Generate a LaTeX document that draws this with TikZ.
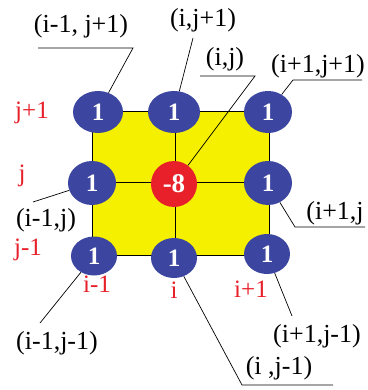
\documentclass[tikz,border=0pt]{standalone}
\usepackage{fontspec}
\setmainfont{Liberation Serif}
\usetikzlibrary{shapes.geometric}
\definecolor{nodeblue}{HTML}{3C46A0}
\definecolor{nodered}{HTML}{E8202A}
\definecolor{labred}{HTML}{E8202A}
\definecolor{fieldyellow}{HTML}{F5F000}
\tikzset{
  pt/.style={ellipse, fill=nodeblue, text=white, inner sep=0pt,
    minimum width=48pt, minimum height=42pt,
    font=\fontsize{25}{25}\selectfont\bfseries},
  ctr/.style={circle, fill=nodered, text=white, inner sep=0pt,
    minimum size=46pt, font=\fontsize{27}{27}\selectfont\bfseries},
  idx/.style={text=labred, inner sep=0pt, font=\fontsize{25}{25}\selectfont},
  lab/.style={inner sep=0pt, font=\fontsize{26}{26}\selectfont},
  lead/.style={draw=black, line width=0.7pt},
  grid/.style={draw=black, line width=0.7pt}
}
\begin{document}
\begin{tikzpicture}[x=1pt, y=-1pt]
\useasboundingbox (0,0) rectangle (367,390);
\fill[white] (0,0) rectangle (367,390);
% yellow field and grid
\coordinate (r1) at (92,111);
\coordinate (r2) at (269,255);
\filldraw[fill=fieldyellow, grid] (r1) rectangle (r2);
\coordinate (vt) at (175,111);
\coordinate (vb) at (175,255);
\coordinate (hl) at (92,182);
\coordinate (hr) at (269,182);
\draw[grid] (vt) -- (vb);
\draw[grid] (hl) -- (hr);
% stencil points
\node[pt, minimum width=50pt] (tl) at (98,112) {1};
\node[pt, minimum width=52pt] (tm) at (174,112) {1};
\node[pt] (tr) at (268,112) {1};
\node[pt, minimum height=44pt] (ml) at (92,183) {1};
\node[ctr] (c) at (174,184) {-8};
\node[pt, minimum height=44pt] (mr) at (268,183) {1};
\node[pt, minimum width=46pt, minimum height=39pt] (bl) at (94,256) {1};
\node[pt, minimum width=46pt, minimum height=40pt] (bm) at (174,258) {1};
\node[pt, minimum width=46pt, minimum height=40pt] (br) at (267,254) {1};
% red indices
\node[idx] (jp) at (32,113) {j+1};
\node[idx] (j0) at (22,176) {j};
\node[idx] (jm) at (28,250) {j-1};
\node[idx] (im) at (97,284) {i-1};
\node[idx] (i0) at (174,290) {i};
\node[idx] (ip) at (251,289) {i+1};
% labels with leaders
\node[lab] (Ltl) at (81,26) {(i-1, j+1)};
\coordinate (u1a) at (38,48);
\coordinate (u1b) at (133,48);
\draw[lead] (u1a) -- (u1b) -- (tl);

\node[lab] (Ltm) at (203,20) {(i,j+1)};
\coordinate (u2) at (193,38);
\draw[lead] (u2) -- (tm);

\node[lab] (Lc) at (225,59) {(i,j)};
\coordinate (u3a) at (200,76);
\coordinate (u3b) at (255,76);
\draw[lead] (u3a) -- (u3b) -- (c);

\node[lab] (Ltr) at (318,66) {(i+1,j+1)};
\coordinate (u4a) at (293,80);
\coordinate (u4b) at (362,80);
\draw[lead] (u4b) -- (u4a) -- (tr);

\node[lab] (Lmr) at (335,213) {(i+1,j};
\coordinate (u5a) at (295,227);
\coordinate (u5b) at (365,227);
\draw[lead] (u5b) -- (u5a) -- (mr);

\node[lab] (Lml) at (46,220) {(i-1,j)};
\coordinate (u6) at (33,202);
\draw[lead] (u6) -- (ml);

\node[lab] (Lbl) at (57,343) {(i-1,j-1)};
\coordinate (u7) at (40,323);
\draw[lead] (u7) -- (bl);

\node[lab] (Lbr) at (317,336) {(i+1,j-1)};
\coordinate (u8) at (292,316);
\draw[lead] (u8) -- (br);

\node[lab] (Lbm) at (279,368) {(i ,j-1)};
\coordinate (u9a) at (242,385);
\coordinate (u9b) at (333,385);
\draw[lead] (u9b) -- (u9a) -- (bm);
\end{tikzpicture}
\end{document}
